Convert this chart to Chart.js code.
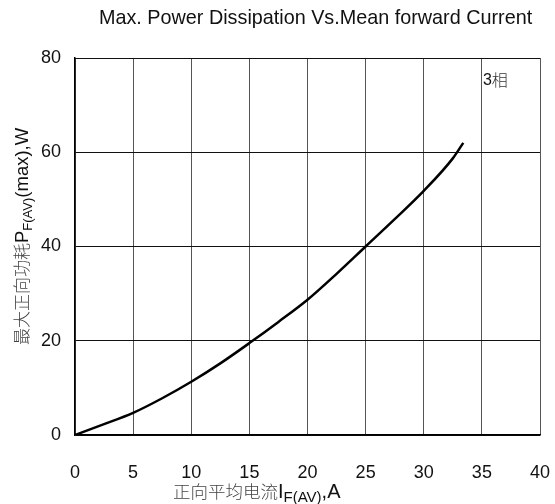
<!DOCTYPE html>
<html>
<head>
<meta charset="utf-8">
<script src="https://cdn.jsdelivr.net/npm/chart.js@4/dist/chart.umd.min.js"></script>
<style>
  html, body { margin: 0; padding: 0; background: #fff; }
  canvas { display: block; }
</style>
</head>
<body>
<canvas id="pdChart" width="555" height="504"></canvas>
<script>
// values (3-phase)
var currentA = [0, 2.5, 5, 7.5, 10, 12.5, 15, 17.5, 20, 22.5, 25, 27.5, 30, 32.5, 33.4];
var powerW   = [0, 2.3, 4.7, 7.8, 11.3, 15.2, 19.5, 24, 28.7, 34.2, 40, 45.8, 51.8, 58.7, 62];
var xTicks = [0, 5, 10, 15, 20, 25, 30, 35, 40];
var yTicks = [0, 20, 40, 60, 80];

var titleText = 'Max. Power Dissipation Vs.Mean forward Current';
var curveLabel = ['3', '相'];

var LATIN = '"Liberation Sans", Arial, sans-serif';
var CJK = '"Noto Sans CJK SC", sans-serif';

function drawRich(ctx, parts, x, y) {
    parts.forEach(function (p) {
        ctx.font = p.font;
        ctx.fillStyle = p.color;
        ctx.fillText(p.text, x, y + (p.dy || 0));
        x += ctx.measureText(p.text).width;
    });
}

var labelsPlugin = {
    id: 'labelsPlugin',
    afterDraw: function (chart) {
        var ctx = chart.ctx;
        ctx.save();
        ctx.textBaseline = 'alphabetic';
        ctx.textAlign = 'left';

        ctx.font = '19.8px ' + LATIN;
        ctx.fillStyle = '#111';
        ctx.fillText(titleText, 99, 24);

        // x axis title with subscript
        drawRich(ctx, [
            { text: '正向平均电流', font: '300 17.5px ' + CJK, color: '#444' },
            { text: 'I', font: '20px ' + LATIN, color: '#111' },
            { text: 'F(AV)', font: '15px ' + LATIN, color: '#111', dy: 3.5 },
            { text: ',A', font: '20px ' + LATIN, color: '#111' }
        ], 173, 498);

        // y axis title, rotated
        ctx.translate(21, 345);
        ctx.rotate(-Math.PI / 2);
        drawRich(ctx, [
            { text: '最大正向功耗', font: '300 17px ' + CJK, color: '#444' },
            { text: 'P', font: '18.5px ' + LATIN, color: '#111' },
            { text: 'F(AV)', font: '13px ' + LATIN, color: '#111', dy: 4 },
            { text: '(max),W', font: '18.5px ' + LATIN, color: '#111' }
        ], 0, 6.5);
        ctx.restore();

        ctx.save();
        var xs = chart.scales.x, ys = chart.scales.y;
        ctx.textBaseline = 'middle';
        drawRich(ctx, [
            { text: curveLabel[0], font: '16px ' + LATIN, color: '#111' },
            { text: curveLabel[1], font: '300 16px ' + CJK, color: '#333' }
        ], xs.getPixelForValue(35) + 1, ys.getPixelForValue(75.3));
        ctx.restore();
    }
};

var points = currentA.map(function (c, i) { return { x: c, y: powerW[i] }; });

new Chart(document.getElementById('pdChart').getContext('2d'), {
    type: 'line',
    data: {
        datasets: [{
            data: points,
            borderColor: '#000',
            borderWidth: 2.5,
            pointRadius: 0,
            cubicInterpolationMode: 'monotone',
            fill: false
        }]
    },
    options: {
        responsive: false,
        animation: false,
        layout: { padding: { top: 58, right: 15, left: 0, bottom: 0 } },
        plugins: {
            legend: { display: false },
            tooltip: { enabled: false },
            title: { display: false }
        },
        scales: {
            x: {
                type: 'linear',
                min: 0,
                max: 40,
                afterBuildTicks: function (s) { s.ticks = xTicks.map(function (v) { return { value: v }; }); },
                afterFit: function (s) { s.height = 69; s.paddingLeft = 0; s.paddingRight = 0; },
                ticks: { color: '#111', font: { family: LATIN, size: 18 }, padding: 27, maxRotation: 0 },
                grid: { color: '#555', lineWidth: 1, drawTicks: false },
                border: { color: '#000', width: 1.5 }
            },
            y: {
                type: 'linear',
                min: 0,
                max: 80,
                afterBuildTicks: function (s) { s.ticks = yTicks.map(function (v) { return { value: v }; }); },
                afterFit: function (s) { s.width = 75; s.paddingTop = 0; s.paddingBottom = 0; },
                ticks: { color: '#111', font: { family: LATIN, size: 18 }, padding: 14 },
                grid: { color: '#111', lineWidth: 1, drawTicks: false },
                border: { color: '#000', width: 1.5 }
            }
        }
    },
    plugins: [labelsPlugin]
});
</script>
</body>
</html>
